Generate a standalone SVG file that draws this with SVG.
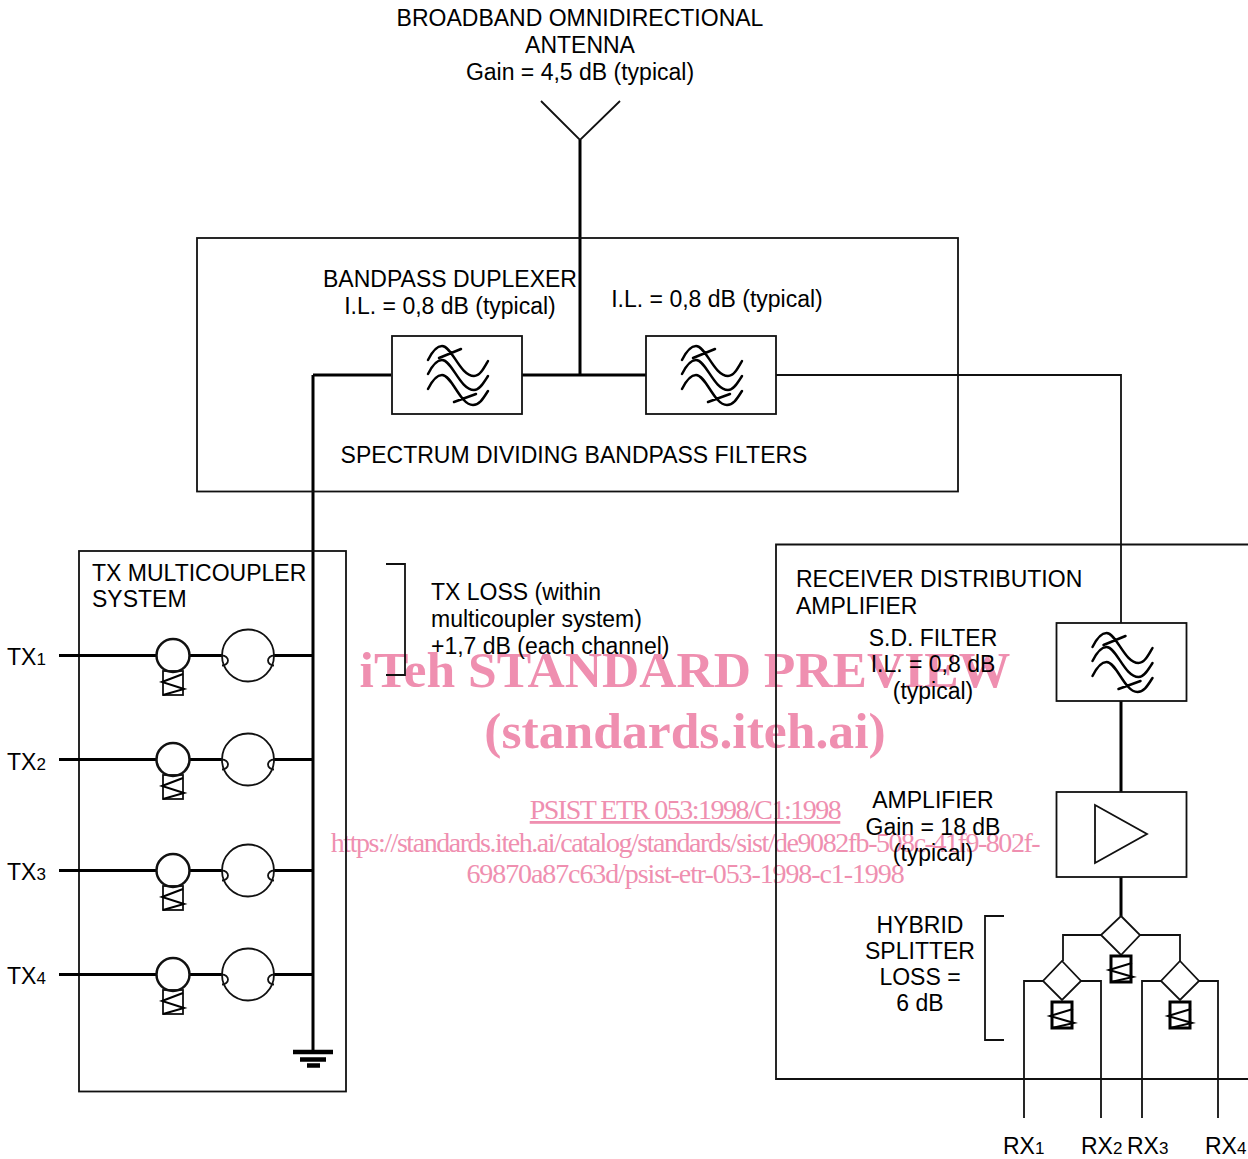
<svg xmlns="http://www.w3.org/2000/svg" xmlns:xlink="http://www.w3.org/1999/xlink" width="1248" height="1159" viewBox="0 0 1248 1159">
<style>
text{font-family:"Liberation Sans",Arial,sans-serif;font-size:23px;fill:#000}
.m{text-anchor:middle}
.s{font-size:17px}
.wm{font-family:"Liberation Serif","Times New Roman",serif;fill:#ef8fb0;text-anchor:middle}
.b{font-weight:bold;font-size:51.6px}
.u{font-size:28px;letter-spacing:-1.46px}
.n,.box{fill:none;stroke:#111;stroke-width:1.8}
.box{fill:#fff}
.k{fill:none;stroke:#000;stroke-width:3}
.w{fill:none;stroke:#000;stroke-width:2.5;stroke-linecap:round}
.h{fill:none;stroke:#000;stroke-width:2}
</style>
<defs>
<g id="filter">
<rect class="n" x="0" y="0" width="130" height="78"/>
<path class="w" d="M36,24C40,16 45,10 50,10C60,10 68,40 82,40C88,40 92,32 96,25M36,38C40,30 45,24 50,24C60,24 68,54 82,54C88,54 92,46 96,40M36,53C40,45 45,39 50,39C60,39 68,69 81,69C88,69 92,61 96,55M47,22L69,13M62,66L84,58"/>
</g>
<g id="res">
<rect class="n" x="0" y="0" width="20" height="24"/>
<path class="h" d="M20,3L-1,11L21,18L0,24"/>
</g>
<g id="res2">
<rect class="k" x="0" y="0" width="20" height="26"/>
<path class="h" d="M21,7L-2,14L22,21L0,26"/>
</g>
<g id="txrow">
<path class="k" d="M59,0H157M190,0H222M274,0H313"/>
<circle class="box" cx="173" cy="0" r="16.5" style="stroke-width:2.5"/>
<use xlink:href="#res" x="163" y="15.500"/>
<circle class="n" cx="248" cy="0" r="26"/>
<path class="n" d="M222,0A6,5 0 0 1 222,10M274,0A6,5 0 0 0 274,10"/>
</g>
</defs>

<g id="watermark">
<text class="wm b" x="685" y="687">iTeh STANDARD PREVIEW</text>
<text class="wm b" x="685" y="748">(standards.iteh.ai)</text>
<text class="wm u" x="685" y="819" text-decoration="underline" style="letter-spacing:-1.5px">PSIST ETR 053:1998/C1:1998</text>
<text class="wm u" x="685" y="852">https://standards.iteh.ai/catalog/standards/sist/de9082fb-508c-41f9-802f-</text>
<text class="wm u" x="685" y="883" style="letter-spacing:-1.1px">69870a87c63d/psist-etr-053-1998-c1-1998</text>
</g>

<g id="connectors">
<path class="n" d="M541,101L580,140L620,101"/>
<path class="k" d="M580,140V375M313,375H391M522,375H646M313,375V1052M1121,701V792M1121,877V916"/>
<path class="n" d="M776,375H1121V623M1101,935H1063V961M1140,935H1180V961M1043,981H1024V1118M1081,981H1101V1118M1161,981H1142V1118M1199,981H1218V1118"/>
</g>

<g id="duplexer">
<rect class="n" x="197" y="238" width="761" height="253.500"/>
<text class="m" x="450" y="287">BANDPASS DUPLEXER</text>
<text class="m" x="450" y="314">I.L. = 0,8 dB (typical)</text>
<text class="m" x="717" y="307">I.L. = 0,8 dB (typical)</text>
<text class="m" x="574" y="463">SPECTRUM DIVIDING BANDPASS FILTERS</text>
</g>
<g id="filter-1"><use xlink:href="#filter" x="392" y="336"/></g>
<g id="filter-2"><use xlink:href="#filter" x="646" y="336"/></g>

<g id="antenna">
<text class="m" x="580" y="26">BROADBAND OMNIDIRECTIONAL</text>
<text class="m" x="580" y="53">ANTENNA</text>
<text class="m" x="580" y="80">Gain = 4,5 dB (typical)</text>
</g>

<g id="tx-multicoupler">
<rect class="n" x="79" y="551" width="267" height="540.500"/>
<text x="92" y="581">TX MULTICOUPLER</text>
<text x="92" y="607">SYSTEM</text>
<path class="k" d="M293,1052H333M300,1059.500H326M307,1065.500H320" style="stroke-width:4.500"/>
</g>
<g id="tx1"><text x="7" y="665">TX<tspan class="s">1</tspan></text><use xlink:href="#txrow" y="655.500"/></g>
<g id="tx2"><text x="7" y="770">TX<tspan class="s">2</tspan></text><use xlink:href="#txrow" y="759.500"/></g>
<g id="tx3"><text x="7" y="880">TX<tspan class="s">3</tspan></text><use xlink:href="#txrow" y="870.500"/></g>
<g id="tx4"><text x="7" y="984">TX<tspan class="s">4</tspan></text><use xlink:href="#txrow" y="974.500"/></g>

<g id="tx-loss">
<path class="n" d="M386,564H405V675H386"/>
<text x="431" y="600">TX LOSS (within</text>
<text x="431" y="627">multicoupler system)</text>
<text x="431" y="654">+1,7 dB (each channel)</text>
</g>

<g id="receiver">
<path class="n" d="M1248,544.500H776V1079H1248"/>
<text x="796" y="587">RECEIVER DISTRIBUTION</text>
<text x="796" y="614">AMPLIFIER</text>
</g>
<g id="sd-filter">
<text class="m" x="933" y="646">S.D. FILTER</text>
<text class="m" x="933" y="672">I.L. = 0,8 dB</text>
<text class="m" x="933" y="699">(typical)</text>
<use xlink:href="#filter" x="1056.500" y="623"/>
</g>
<g id="amplifier">
<text class="m" x="933" y="808">AMPLIFIER</text>
<text class="m" x="933" y="835">Gain = 18 dB</text>
<text class="m" x="933" y="861">(typical)</text>
<rect class="n" x="1056.500" y="792" width="130" height="85"/>
<path class="n" d="M1095,805L1147,834L1095,863Z"/>
</g>
<g id="splitter">
<path class="n" d="M1004,916H985V1040H1004"/>
<text class="m" x="920" y="933">HYBRID</text>
<text class="m" x="920" y="959">SPLITTER</text>
<text class="m" x="920" y="985">LOSS =</text>
<text class="m" x="920" y="1011">6 dB</text>
<path class="box" d="M1121,916L1140,935L1121,955L1101,935Z"/>
<path class="box" d="M1062,961L1081,981L1062,1000L1043,981Z"/>
<path class="box" d="M1180,961L1199,981L1180,1000L1161,981Z"/>
<use xlink:href="#res2" x="1111" y="956"/>
<use xlink:href="#res2" x="1052" y="1002"/>
<use xlink:href="#res2" x="1170" y="1002"/>
</g>
<g id="rx-labels">
<text x="1003" y="1154">RX<tspan class="s">1</tspan></text>
<text x="1081" y="1154">RX<tspan class="s">2</tspan></text>
<text x="1127" y="1154">RX<tspan class="s">3</tspan></text>
<text x="1205" y="1154">RX<tspan class="s">4</tspan></text>
</g>
</svg>
